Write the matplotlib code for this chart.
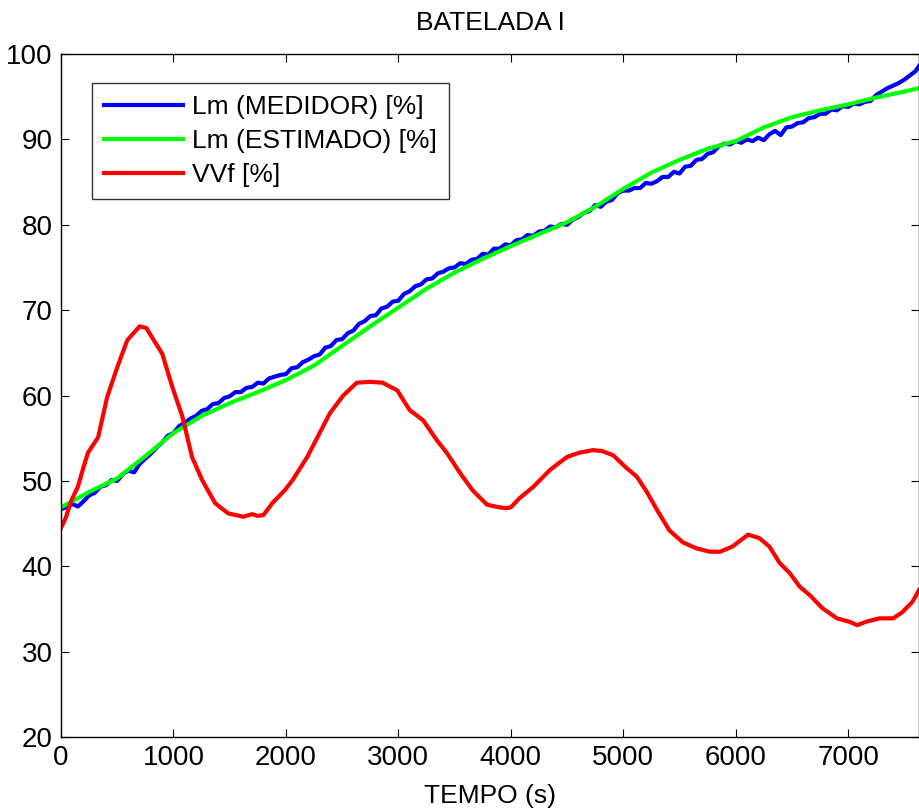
import matplotlib
matplotlib.use("Agg")
import matplotlib.pyplot as plt

plt.rcParams['font.family'] = ['Liberation Sans', 'DejaVu Sans']

title = "BATELADA I"
xlabel = "TEMPO (s)"
labels = ["Lm (MEDIDOR) [%]", "Lm (ESTIMADO) [%]", "VVf [%]"]
xticks = [0, 1000, 2000, 3000, 4000, 5000, 6000, 7000]
yticks = [20, 30, 40, 50, 60, 70, 80, 90, 100]

t_med = list(range(0, 7650, 50)) + [7630]
t_med = [t for t in t_med if t <= 7630]
lm_medidor = [
    46.7, 46.9, 47.3, 47.0, 47.6, 48.3, 48.6, 49.3, 49.5, 50.1,
    50.0, 50.8, 51.2, 51.0, 52.0, 52.6, 53.2, 53.9, 54.5, 55.3,
    55.6, 56.4, 56.8, 57.3, 57.6, 58.2, 58.4, 59.0, 59.1, 59.7,
    59.9, 60.4, 60.4, 60.9, 61.0, 61.5, 61.4, 62.0, 62.2, 62.4,
    62.5, 63.2, 63.3, 63.9, 64.2, 64.6, 64.8, 65.6, 65.8, 66.5,
    66.6, 67.3, 67.6, 68.4, 68.7, 69.3, 69.4, 70.2, 70.4, 71.0,
    71.1, 71.9, 72.2, 72.8, 73.0, 73.6, 73.7, 74.3, 74.5, 74.9,
    75.0, 75.5, 75.4, 75.9, 76.0, 76.6, 76.5, 77.2, 77.2, 77.7,
    77.6, 78.2, 78.3, 78.8, 78.7, 79.2, 79.3, 79.8, 79.7, 80.1,
    80.0, 80.6, 80.9, 81.4, 81.6, 82.3, 82.1, 82.7, 82.9, 83.7,
    84.0, 84.0, 84.3, 84.3, 84.9, 84.8, 85.1, 85.6, 85.6, 86.2,
    86.0, 86.8, 86.9, 87.6, 87.7, 88.3, 88.5, 89.2, 89.5, 89.4,
    89.8, 89.6, 90.0, 89.8, 90.2, 89.9, 90.6, 91.0, 90.5, 91.4,
    91.5, 91.9, 92.0, 92.5, 92.6, 93.0, 93.0, 93.5, 93.4, 93.9,
    93.8, 94.2, 94.1, 94.4, 94.5, 95.2, 95.6, 96.0, 96.3, 96.6,
    97.0, 97.5, 98.0, 98.6,
]

t_est = [0, 250, 500, 750, 1000, 1250, 1500, 1750, 2000, 2250, 2500, 2750,
         3000, 3250, 3500, 3750, 4000, 4250, 4500, 4750, 5000, 5250, 5500,
         5750, 6000, 6250, 6500, 6750, 7000, 7250, 7500, 7630]
lm_estimado = [46.9, 48.7, 50.3, 52.9, 55.6, 57.6, 59.1, 60.4, 61.8, 63.5,
               65.8, 68.1, 70.3, 72.5, 74.4, 76.0, 77.5, 78.9, 80.3, 82.1,
               84.2, 86.1, 87.6, 88.9, 89.8, 91.4, 92.6, 93.4, 94.1, 94.9,
               95.6, 96.0]

t_vvf = [0, 40, 95, 150, 200, 240, 330, 410, 500, 590, 700, 760, 810, 900,
         990, 1080, 1165, 1255, 1370, 1485, 1620, 1700, 1750, 1800, 1880,
         1990, 2060, 2190, 2280, 2390, 2510, 2630, 2750, 2860, 2990, 3100,
         3220, 3340, 3430, 3550, 3660, 3790, 3900, 3960, 4000, 4080, 4200,
         4350, 4500, 4610, 4730, 4810, 4910, 5030, 5120, 5210, 5300, 5410,
         5530, 5650, 5770, 5860, 5970, 6110, 6210, 6300, 6390, 6480, 6570,
         6660, 6770, 6900, 7010, 7080, 7160, 7280, 7400, 7480, 7570, 7630]
vvf = [44.5, 45.6, 47.8, 49.3, 51.6, 53.3, 55.1, 59.8, 63.3, 66.5, 68.1,
       67.9, 66.8, 64.9, 61.0, 57.5, 52.8, 50.1, 47.4, 46.2, 45.8, 46.1,
       45.9, 46.0, 47.4, 48.9, 50.1, 52.8, 55.1, 57.9, 60.0, 61.5, 61.6,
       61.5, 60.6, 58.3, 57.1, 54.8, 53.3, 50.9, 48.9, 47.2, 46.9, 46.8,
       46.9, 48.0, 49.3, 51.3, 52.8, 53.3, 53.6, 53.5, 53.0, 51.5, 50.5,
       48.7, 46.6, 44.2, 42.8, 42.1, 41.7, 41.7, 42.3, 43.7, 43.3, 42.3,
       40.4, 39.2, 37.6, 36.6, 35.1, 33.9, 33.5, 33.1, 33.5, 33.9, 33.9,
       34.6, 35.8, 37.2]

fig = plt.figure(figsize=(9.2, 8.1), dpi=100)
ax = fig.add_axes([61/920, 73/810, 858/920, 683/810])

ax.plot(t_med, lm_medidor, color=(0, 0, 1), lw=3, label=labels[0])
ax.plot(t_est, lm_estimado, color=(0, 1, 0), lw=3, label=labels[1])
ax.plot(t_vvf, vvf, color=(1, 0, 0), lw=3, label=labels[2])

ax.set_xlim(0, 7630)
ax.set_ylim(20, 100)
ax.set_xticks(xticks)
ax.set_yticks(yticks)
ax.tick_params(direction='in', length=6, width=0.8, top=True, right=True,
               labelsize=20, pad=6)
for s in ax.spines.values():
    s.set_linewidth(1.0)

ax.set_title(title, fontsize=19, pad=17)
ax.set_xlabel(xlabel, fontsize=19, labelpad=9)

leg = ax.legend(loc='upper left', bbox_to_anchor=(0.036, 0.9575),
                borderaxespad=0, fontsize=19, frameon=True, fancybox=False,
                handlelength=3.0, handletextpad=0.35, labelspacing=0.38,
                borderpad=0.45)
leg.get_frame().set_edgecolor('black')
leg.get_frame().set_linewidth(1.0)

fig.savefig("out.png", dpi=100)
